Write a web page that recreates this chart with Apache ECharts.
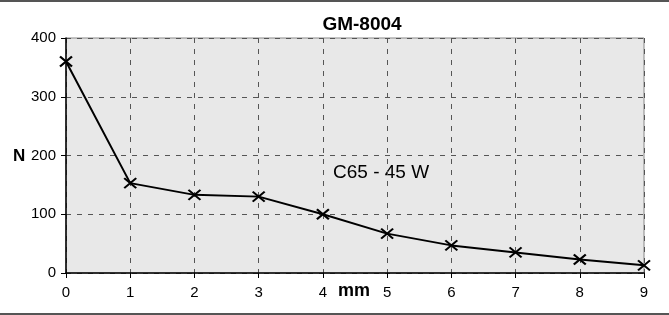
<!DOCTYPE html>
<html>
<head>
<meta charset="utf-8">
<style>
  html, body { margin: 0; padding: 0; background: #fff; }
  #main { width: 669px; height: 315px; }
</style>
<script src="https://cdn.jsdelivr.net/npm/echarts@6/dist/echarts.min.js"></script>
</head>
<body>
<div id="main"></div>
<script>
/* data */
var distMm = [0, 1, 2, 3, 4, 5, 6, 7, 8, 9];
var forceN = [360, 153, 133, 130, 100, 67, 47, 35, 23, 13];
var yTicks = { min: 0, max: 400, step: 100 };
var titleText = 'GM-8004';
var seriesNote = 'C65 - 45 W';

var points = distMm.map(function (d, i) { return [d, forceN[i]]; });

var font = 'Liberation Sans, Arial, sans-serif';
var dash = { color: '#555', width: 1, type: [5, 6] };

var chart = echarts.init(document.getElementById('main'));
chart.setOption({
    animation: false,
    backgroundColor: '#fff',
    grid: {
        left: 66, right: 25, top: 38, bottom: 42,
        show: true, backgroundColor: '#e8e8e8', borderColor: '#888', borderWidth: 1
    },
    xAxis: {
        type: 'value', min: 0, max: 9, interval: 1,
        axisLine: { lineStyle: { color: '#000', width: 1.5 } },
        axisTick: { length: 5, lineStyle: { color: '#000' } },
        axisLabel: { margin: 12, fontFamily: font, fontSize: 15, color: '#000' },
        splitLine: { show: true, lineStyle: dash }
    },
    yAxis: {
        type: 'value', min: yTicks.min, max: yTicks.max, interval: yTicks.step,
        axisLine: { show: true, lineStyle: { color: '#000', width: 1.5 } },
        axisTick: { show: true, length: 5, lineStyle: { color: '#000' } },
        axisLabel: { margin: 10, fontFamily: font, fontSize: 15, color: '#000' },
        splitLine: { show: true, lineStyle: dash }
    },
    series: [{
        type: 'line',
        data: points,
        lineStyle: { color: '#000', width: 2 },
        symbol: 'path://M0,0L10,10M10,0L0,10',
        symbolSize: [12, 10],
        itemStyle: { color: 'none', borderColor: '#000', borderWidth: 2 }
    }],
    graphic: [
        { type: 'rect', shape: { x: 0, y: 0, width: 669, height: 2 }, style: { fill: '#555' } },
        { type: 'rect', shape: { x: 0, y: 313, width: 669, height: 2 }, style: { fill: '#555' } },
        { type: 'text', x: 362, y: 25,
          style: { text: titleText, font: 'bold 19px ' + font, fill: '#000',
                   align: 'center', verticalAlign: 'middle' } },
        { type: 'text', x: 13, y: 156,
          style: { text: 'N', font: 'bold 17px ' + font, fill: '#000', verticalAlign: 'middle' } },
        { type: 'text', x: 338, y: 291,
          style: { text: 'mm', font: 'bold 18px ' + font, fill: '#000', verticalAlign: 'middle' } },
        { type: 'text', x: 333, y: 173,
          style: { text: seriesNote, font: '19px ' + font, fill: '#000', verticalAlign: 'middle' } }
    ]
});
</script>
</body>
</html>
